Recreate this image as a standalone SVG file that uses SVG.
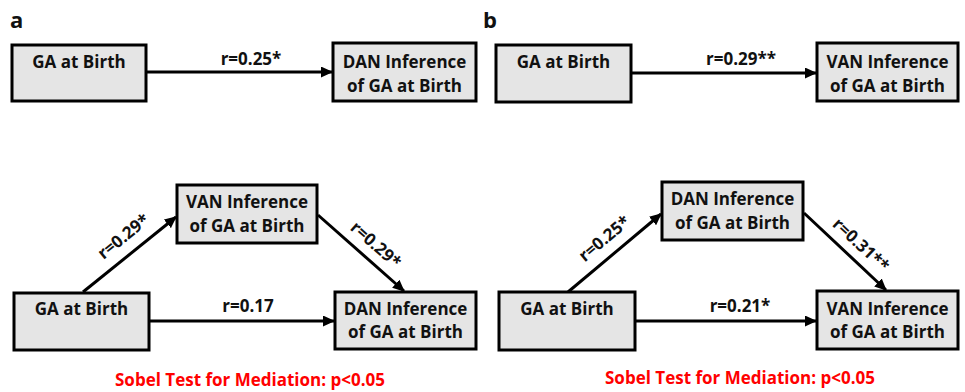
<svg xmlns="http://www.w3.org/2000/svg" width="965" height="392" viewBox="0 0 965 392">
<style>
text{font-family:"Open Sans","Liberation Sans",Arial,sans-serif;font-weight:700;fill:#111}
.node rect{fill:#e5e5e5;stroke:#000;stroke-width:3}
.node text{font-size:17px;text-anchor:middle}
.lbl{font-size:17px;text-anchor:middle}
.panel{font-size:22px}
.sobel{font-size:17px;fill:#f00;text-anchor:middle}
.edge{stroke:#000;stroke-width:3;fill:none;marker-end:url(#ah)}
</style>
<defs>
<marker id="ah" markerUnits="userSpaceOnUse" markerWidth="12" markerHeight="11" refX="11" refY="5.5" orient="auto">
<path d="M0,0 L12,5.5 L0,11 z" fill="#000"/>
</marker>
</defs>
<rect width="965" height="392" fill="#fff"/>
<text class="panel" x="10" y="28">a</text>
<text class="panel" x="483" y="28">b</text>

<g id="connectors">
<line class="edge" x1="146" y1="72" x2="332" y2="72"/>
<line class="edge" x1="83" y1="292" x2="176" y2="217"/>
<line class="edge" x1="318" y1="215" x2="404" y2="291"/>
<line class="edge" x1="149" y1="321" x2="334" y2="321"/>
<line class="edge" x1="631" y1="73" x2="816" y2="73"/>
<line class="edge" x1="568" y1="292" x2="661" y2="214"/>
<line class="edge" x1="804" y1="213" x2="886" y2="290"/>
<line class="edge" x1="635" y1="321" x2="816" y2="321"/>
</g>

<g id="edge-labels">
<text class="lbl" x="251" y="65">r=0.25*</text>
<text class="lbl" transform="translate(127,241) rotate(-39)">r=0.29*</text>
<text class="lbl" transform="translate(372,249) rotate(41.5)">r=0.29*</text>
<text class="lbl" x="248" y="312">r=0.17</text>
<text class="lbl" x="741" y="65">r=0.29**</text>
<text class="lbl" transform="translate(608,243) rotate(-40)">r=0.25*</text>
<text class="lbl" transform="translate(857,249) rotate(43)">r=0.31**</text>
<text class="lbl" x="740" y="312">r=0.21*</text>
</g>

<g id="a-top-ga" class="node">
<rect x="12" y="45" width="134" height="56"/>
<text x="79" y="68">GA at Birth</text>
</g>
<g id="a-top-dan" class="node">
<rect x="333" y="43" width="143" height="58"/>
<text x="404.5" y="68">DAN Inference</text>
<text x="404.5" y="92">of GA at Birth</text>
</g>
<g id="a-bot-van" class="node">
<rect x="177" y="185" width="140" height="58"/>
<text x="247" y="208">VAN Inference</text>
<text x="247" y="232">of GA at Birth</text>
</g>
<g id="a-bot-ga" class="node">
<rect x="14" y="293" width="135" height="57"/>
<text x="81.5" y="315">GA at Birth</text>
</g>
<g id="a-bot-dan" class="node">
<rect x="335" y="292" width="141" height="57"/>
<text x="405.5" y="315">DAN Inference</text>
<text x="405.5" y="338">of GA at Birth</text>
</g>

<g id="b-top-ga" class="node">
<rect x="496" y="45" width="135" height="57"/>
<text x="563.5" y="68">GA at Birth</text>
</g>
<g id="b-top-van" class="node">
<rect x="817" y="43" width="141" height="58"/>
<text x="887.5" y="68">VAN Inference</text>
<text x="887.5" y="92">of GA at Birth</text>
</g>
<g id="b-bot-dan" class="node">
<rect x="662" y="182" width="141" height="58"/>
<text x="732.5" y="205">DAN Inference</text>
<text x="732.5" y="229">of GA at Birth</text>
</g>
<g id="b-bot-ga" class="node">
<rect x="499" y="292" width="136" height="58"/>
<text x="567" y="315">GA at Birth</text>
</g>
<g id="b-bot-van" class="node">
<rect x="817" y="291" width="141" height="58"/>
<text x="887.5" y="315">VAN Inference</text>
<text x="887.5" y="338">of GA at Birth</text>
</g>

<text class="sobel" x="250" y="386">Sobel Test for Mediation: p&lt;0.05</text>
<text class="sobel" x="740" y="384">Sobel Test for Mediation: p&lt;0.05</text>
</svg>
